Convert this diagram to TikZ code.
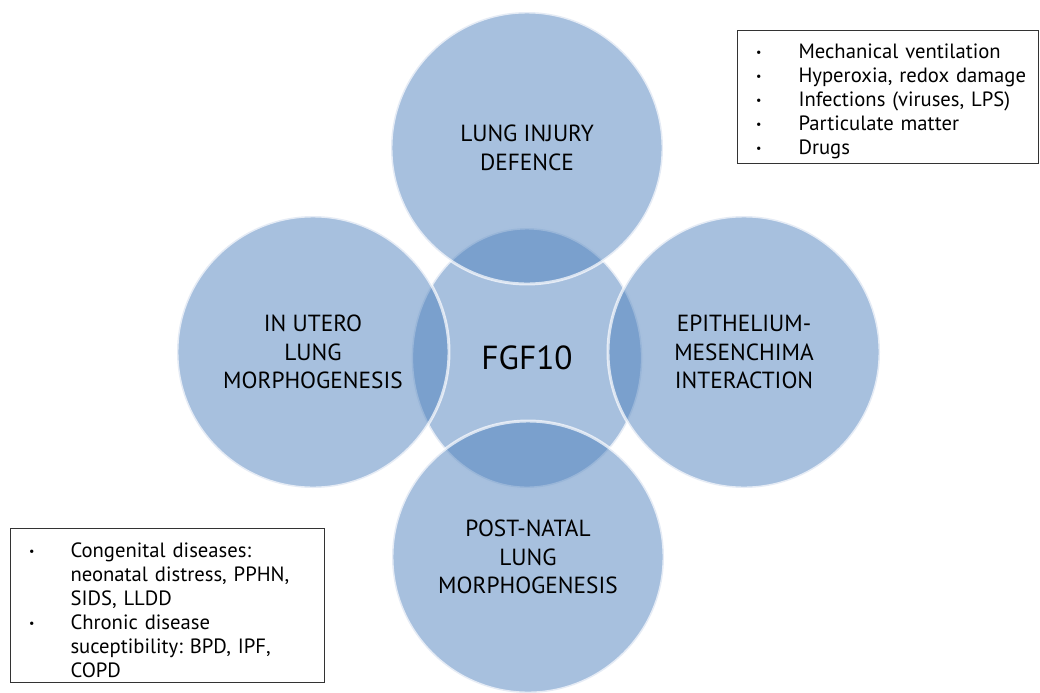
\documentclass[tikz,border=0pt]{standalone}
\usepackage{fontspec}
\setmainfont{PT Sans}
\usetikzlibrary{shapes.geometric}
\definecolor{bubblefill}{RGB}{79,129,189}
\frenchspacing
\newcommand{\smallbullet}{\raisebox{0.2ex}{\fontsize{9}{9}\selectfont\textbullet}}
\newcommand{\bulletlist}[2]{%
  \begin{list}{\smallbullet}{\setlength{\leftmargin}{#1}\setlength{\labelsep}{0pt}%
    \setlength{\labelwidth}{#1}\setlength{\itemsep}{0pt}\setlength{\parsep}{0pt}%
    \setlength{\topsep}{0pt}\setlength{\partopsep}{0pt}%
    \renewcommand{\makelabel}[1]{\hspace{#2}##1\hfil}}}
\begin{document}
\begin{tikzpicture}[x=0.75pt, y=-0.75pt,
  bubble/.style={circle, inner sep=0pt, minimum size=204pt, fill=bubblefill,
    fill opacity=0.5, draw=white, draw opacity=0.7, line width=2.2pt,
    text opacity=1, align=center, font=\fontsize{17.5}{21.5}\selectfont},
  core/.style={bubble, ellipse, minimum width=173pt, minimum height=195pt,
    font=\fontsize{25}{30}\selectfont},
  listbox/.style={draw=black!80, line width=0.8pt, inner sep=0pt, anchor=north west,
    align=left, font=\fontsize{15.5}{18}\selectfont}]
  \useasboundingbox (0,0) rectangle (1040,693);
  % centre first, the four bubbles on top of it
  \node[core] (fgf) at (527,358) {FGF10};
  \node[bubble] (injury) at (527,148) {LUNG INJURY\\DEFENCE};
  \node[bubble] (utero) at (313,352) {IN UTERO\\LUNG\\MORPHOGENESIS};
  \node[bubble] (emi) at (744,352) {EPITHELIUM-\\MESENCHIMA\\INTERACTION};
  \node[bubble] (natal) at (528,557) {POST-NATAL\\LUNG\\MORPHOGENESIS};
  % the two lists
  \node[listbox, text width=225.75pt, minimum height=99.75pt] (causes) at (737,30) {%
    \bulletlist{45.75pt}{14pt}
    \item Mechanical ventilation
    \item Hyperoxia, redox damage
    \item Infections (viruses, LPS)
    \item Particulate matter
    \item Drugs
    \end{list}};
  \node[listbox, text width=235.5pt, minimum height=115.5pt] (diseases) at (10,528) {%
    \bulletlist{45pt}{14pt}
    \item Congenital diseases:\\ neonatal distress, PPHN,\\ SIDS, LLDD
    \item Chronic disease\\ suceptibility: BPD, IPF,\\ COPD
    \end{list}};
\end{tikzpicture}
\end{document}
